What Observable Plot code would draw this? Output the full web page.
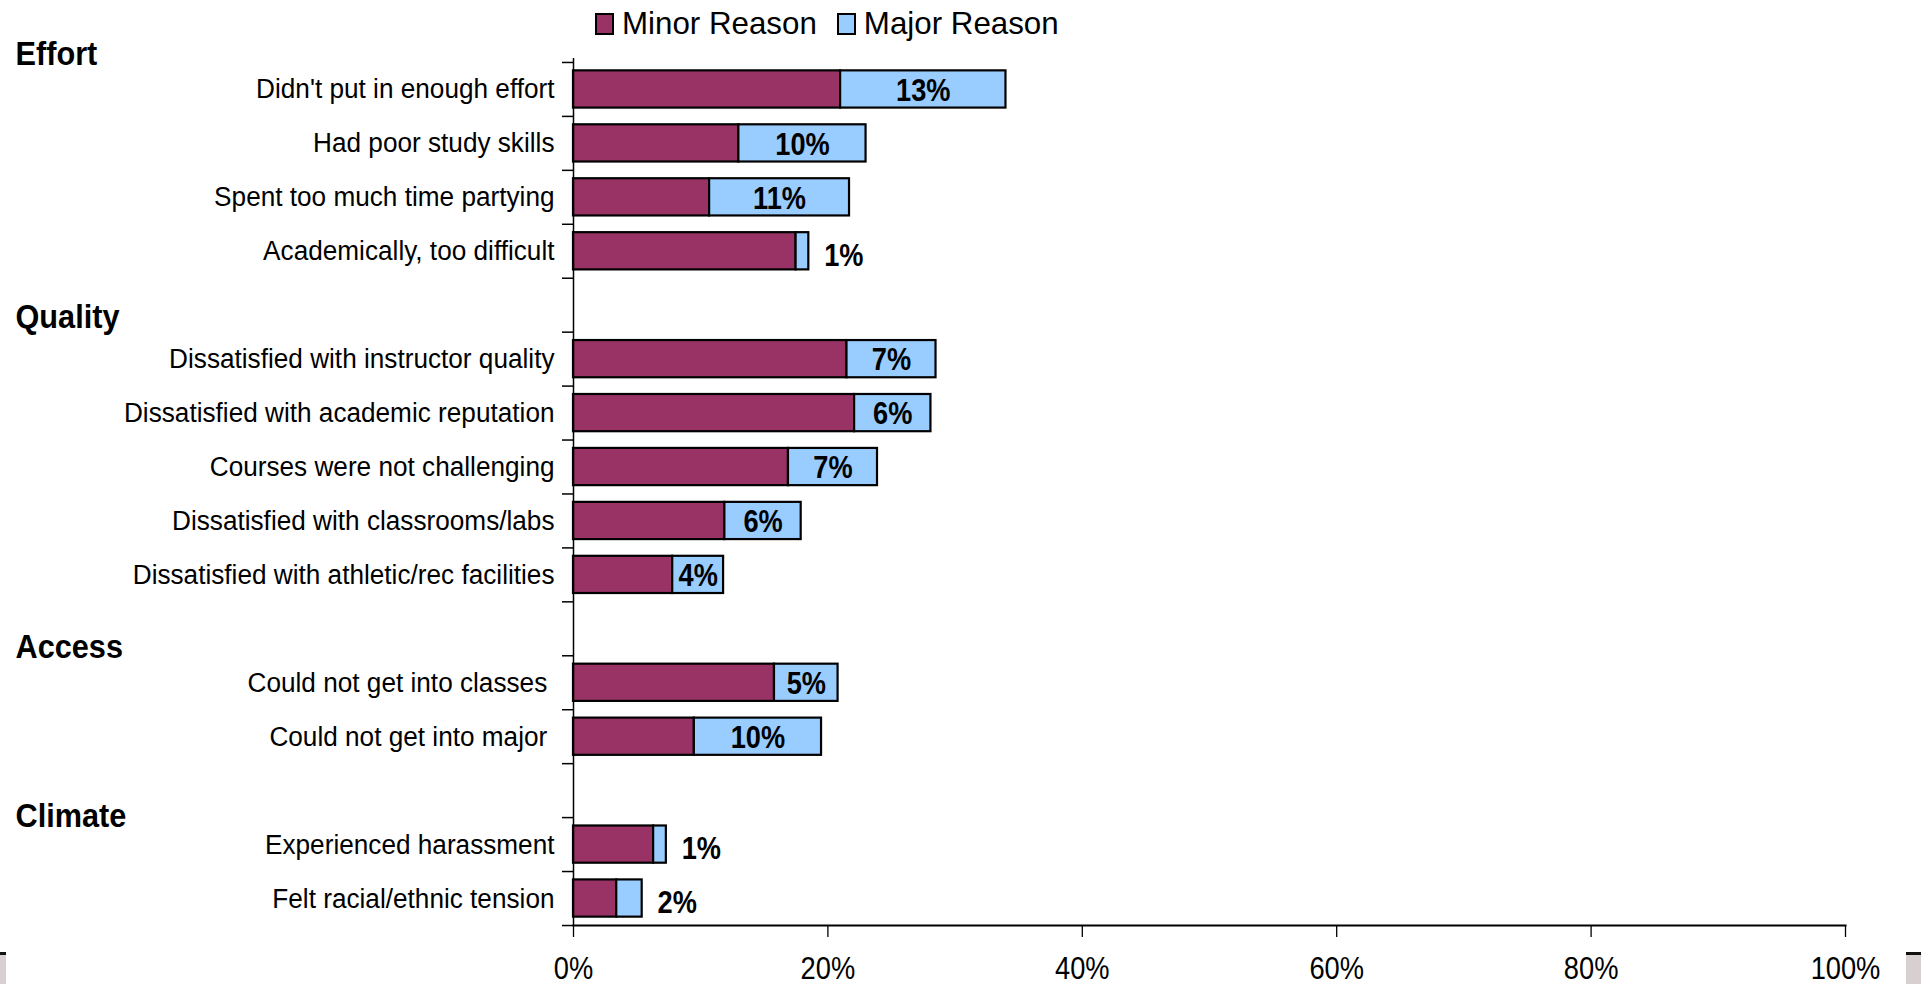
<!DOCTYPE html>
<html>
<head>
<meta charset="utf-8">
<script src="https://cdn.jsdelivr.net/npm/d3@7"></script>
<script src="https://cdn.jsdelivr.net/npm/@observablehq/plot@0.6"></script>
<style>
  html, body { margin: 0; padding: 0; background: #fff; }
  body { width: 1921px; height: 984px; position: relative; overflow: hidden;
         font-family: "Liberation Sans", Arial, sans-serif; }
  #legend { position: absolute; left: 595px; top: 1px; height: 46px; display: flex; align-items: center;
            font-size: 31.3px; color: #000; z-index: 2; white-space: nowrap; }
  #legend .item { display: flex; align-items: center; margin-right: 20px; }
  #legend .sw { width: 15px; height: 18px; border: 2px solid #000; margin-right: 8px; }
  #chart { position: absolute; left: 0; top: 0; }
  .corner { position: absolute; top: 952px; height: 32px; background: #d8d0d0; border-top: 3px solid #111; z-index: 3; }
</style>
</head>
<body>
<div id="legend"></div>
<div id="chart"></div>
<div class="corner" style="left:0;width:6px;"></div>
<div class="corner" style="left:1906px;width:15px;"></div>
<script>
// ---- data ----
const groups = ["Effort", "Quality", "Access", "Climate"];
const reasons = [
  "Didn't put in enough effort",
  "Had poor study skills",
  "Spent too much time partying",
  "Academically, too difficult",
  "Dissatisfied with instructor quality",
  "Dissatisfied with academic reputation",
  "Courses were not challenging",
  "Dissatisfied with classrooms/labs",
  "Dissatisfied with athletic/rec facilities",
  "Could not get into classes\u00a0",
  "Could not get into major\u00a0",
  "Experienced harassment",
  "Felt racial/ethnic tension"
];
const reasonGroup = ["Effort","Effort","Effort","Effort","Quality","Quality","Quality","Quality","Quality","Access","Access","Climate","Climate"];
const minorValues = [21.0, 13.0, 10.7, 17.5, 21.5, 22.1, 16.9, 11.9, 7.8, 15.8, 9.5, 6.3, 3.4];
const majorValues = [13, 10, 11, 1, 7, 6, 7, 6, 4, 5, 10, 1, 2];
const seriesNames = ["Minor Reason", "Major Reason"];
const seriesColors = ["#993366", "#99ccff"];
const xTicks = [0, 20, 40, 60, 80, 100];

// ---- derived tables ----
const spacer = g => "\u0000" + g;
const yDomain = [];
groups.forEach((g, gi) => {
  if (gi > 0) yDomain.push(spacer(g));
  reasons.forEach((r, i) => { if (reasonGroup[i] === g) yDomain.push(r); });
});
const rows = reasons.map((r, i) => ({reason: r, minor: minorValues[i], major: majorValues[i]}));
const segs = rows.flatMap(d => [
  {reason: d.reason, series: seriesNames[0], x1: 0, x2: d.minor},
  {reason: d.reason, series: seriesNames[1], x1: d.minor, x2: d.minor + d.major}
]);
const headerOffsets = [-35, 12, 19, 26];
const headers = groups.map((g, gi) => ({group: g, y: gi === 0 ? yDomain[0] : spacer(g), dy: headerOffsets[gi]}));
const inside = rows.filter(d => d.major >= 3);
const outside = rows.filter(d => d.major < 3);

// ---- legend ----
const legend = document.getElementById("legend");
seriesNames.forEach((s, i) => {
  const it = document.createElement("div");
  it.className = "item";
  it.innerHTML = `<span class="sw" style="background:${seriesColors[i]}"></span><span>${s}</span>`;
  legend.appendChild(it);
});

// ---- chart ----
const FS_LABEL = 28, FS_HEAD = 33, FS_BAR = 32, FS_TICK = 31;
const squeeze = {[FS_LABEL]: 0.935, [FS_HEAD]: 0.93, [FS_BAR]: 0.85, [FS_TICK]: 0.88};
const chart = Plot.plot({
  width: 1921,
  height: 984,
  marginLeft: 573,
  marginRight: 76,
  marginTop: 62,
  marginBottom: 59,
  style: {fontFamily: "'Liberation Sans', Arial, sans-serif", background: "transparent", color: "#000", overflow: "visible"},
  x: {domain: [0, 100]},
  y: {domain: yDomain, paddingInner: 0.31, paddingOuter: 0.155, align: 0.5, round: false},
  color: {domain: seriesNames, range: seriesColors},
  marks: [
    Plot.ruleX(xTicks.slice(1), {y1: null, stroke: "#7a7a7a", strokeWidth: 1.2, insetTop: -4}),
    Plot.barX(segs, {y: "reason", x1: "x1", x2: "x2", fill: "series", stroke: "#000", strokeWidth: 2.2}),
    Plot.text(inside, {y: "reason", x: d => d.minor + d.major / 2, text: d => Math.round(d.major) + "%",
      fontSize: FS_BAR, fontWeight: "bold", fill: "#000", dy: 1}),
    Plot.text(outside, {y: "reason", x: d => d.minor + d.major, text: d => Math.round(d.major) + "%",
      fontSize: FS_BAR, fontWeight: "bold", fill: "#000", dx: 35, dy: 4}),
    Plot.ruleX([0], {stroke: "#000", strokeWidth: 1.5, insetTop: -4}),
    Plot.frame({anchor: "bottom", stroke: "#000", strokeWidth: 2}),
    Plot.axisY({tickSize: 0, tickPadding: 19, fontSize: FS_LABEL, fill: "#000",
      tickFormat: d => d.startsWith("\u0000") ? "" : d}),
    Plot.axisY({text: null, tickSize: 11, dy: -27, stroke: "#000", strokeWidth: 1.5}),
    Plot.axisY([yDomain[yDomain.length - 1]], {text: null, tickSize: 11, dy: 27, stroke: "#000", strokeWidth: 1.5}),
    Plot.axisX({ticks: xTicks, tickFormat: d => d + "%", tickSize: 12, tickPadding: 19.5, fontSize: FS_TICK,
      fill: "#000", stroke: "#000", strokeWidth: 1.3, label: null}),
    ...headers.map(h => Plot.text([h], {y: "y", text: "group", frameAnchor: "left", textAnchor: "start",
      dx: -558, dy: h.dy, fontSize: FS_HEAD, fontWeight: "bold", fill: "#000"}))
  ]
});
// horizontally condense text around its anchor (reference uses a narrow face)
chart.querySelectorAll("text").forEach(t => {
  const holder = t.closest("[font-size]");
  const fs = holder ? holder.getAttribute("font-size") : null;
  const k = squeeze[fs];
  if (!k) return;
  const x = +t.getAttribute("x") || 0;
  const tr = t.getAttribute("transform") || "";
  t.setAttribute("transform", `${tr} translate(${x},0) scale(${k},1) translate(${-x},0)`);
});
document.getElementById("chart").appendChild(chart);
</script>
</body>
</html>
